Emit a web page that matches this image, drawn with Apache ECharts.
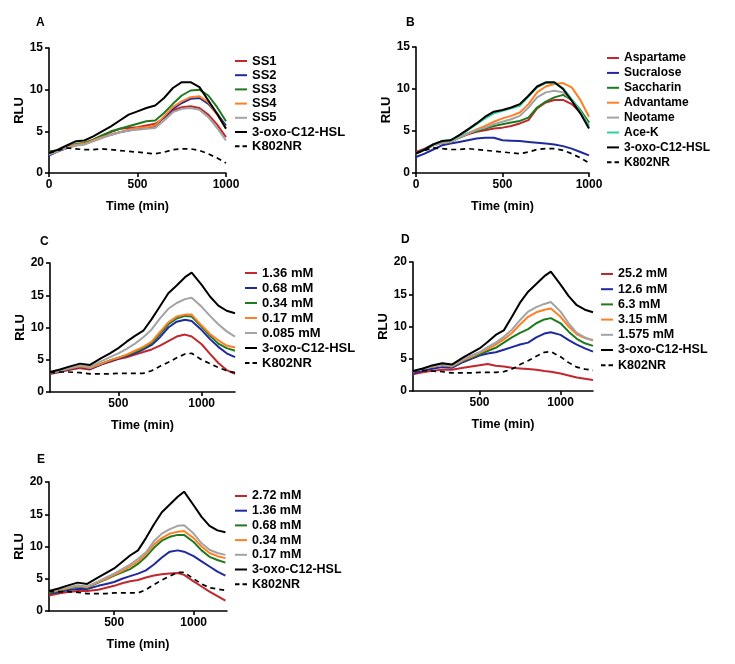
<!DOCTYPE html>
<html><head><meta charset="utf-8">
<script src="https://cdn.jsdelivr.net/npm/echarts@6/dist/echarts.min.js"></script>
<style>html,body{margin:0;padding:0;background:#fff}#c{width:735px;height:664px}</style>
</head><body><div id="c"></div>
<script>
// ---------- DATA ----------
const timeAB = [0,50,100,150,200,250,300,350,400,450,500,550,600,650,700,750,800,850,900,950,1000];
const timeCDE = [90,150,200,270,330,400,450,500,550,600,650,700,750,800,850,900,940,1000,1050,1100,1150,1200];

// Panel A
const A_SS1 = [2.3,2.6,3.0,3.3,3.5,4.0,4.5,4.9,5.3,5.4,5.5,5.7,5.9,6.6,7.5,7.9,8.0,7.8,7.0,5.8,4.3];
const A_SS2 = [2.1,2.6,3.0,3.4,3.5,3.9,4.3,4.6,4.9,5.1,5.3,5.4,5.6,6.7,7.7,8.4,8.9,9.0,8.3,7.1,5.7];
const A_SS3 = [2.6,2.7,3.1,3.5,3.6,4.0,4.5,5.0,5.3,5.6,5.9,6.2,6.3,7.2,8.3,9.3,9.9,10.0,9.3,7.9,6.2];
const A_SS4 = [2.4,2.7,3.1,3.4,3.5,3.9,4.3,4.6,4.9,5.2,5.4,5.5,5.7,6.8,7.9,8.6,9.1,9.2,8.5,7.0,5.4];
const A_SS5 = [2.2,2.6,3.0,3.3,3.4,3.8,4.2,4.6,4.9,5.1,5.2,5.3,5.4,6.3,7.3,7.7,7.8,7.6,6.7,5.4,3.9];
const A_HSL = [2.4,2.8,3.3,3.8,3.9,4.4,5.0,5.6,6.3,7.0,7.4,7.8,8.1,9.0,10.2,10.9,10.9,10.3,8.7,7.1,5.3];
const A_K802NR = [2.4,2.7,3.0,2.9,2.8,2.8,2.9,2.8,2.7,2.6,2.5,2.4,2.3,2.5,2.8,2.9,2.9,2.7,2.3,1.8,1.2];

// Panel B
const B_Aspartame = [2.5,2.9,3.4,3.8,3.8,4.2,4.6,4.9,5.1,5.3,5.4,5.6,5.9,6.3,7.7,8.4,8.7,8.7,8.2,7.2,6.0];
const B_Sucralose = [1.9,2.3,2.8,3.3,3.5,3.7,3.9,4.1,4.2,4.2,3.9,3.85,3.8,3.7,3.6,3.5,3.4,3.2,2.9,2.5,2.1];
const B_Saccharin = [2.3,2.8,3.3,3.6,3.7,4.2,4.7,5.0,5.3,5.6,5.8,6.0,6.2,6.6,7.8,8.5,9.0,9.3,8.7,7.5,6.0];
const B_Advantame = [2.3,2.8,3.3,3.6,3.7,4.2,4.7,5.2,5.6,6.1,6.5,6.8,7.2,8.2,9.6,10.3,10.6,10.7,10.2,8.7,6.7];
const B_Neotame = [2.3,2.8,3.3,3.6,3.7,4.2,4.7,5.1,5.4,5.8,6.1,6.4,6.8,7.8,9.0,9.6,9.8,9.6,8.7,7.3,5.7];
const B_AceK = [2.3,2.8,3.4,3.8,3.9,4.4,5.1,5.8,6.5,7.1,7.4,7.7,8.0,9.1,10.2,10.7,10.7,10.1,8.8,7.3,5.5];
const B_HSL = [2.3,2.8,3.4,3.8,3.9,4.5,5.2,5.9,6.7,7.3,7.5,7.8,8.2,9.2,10.3,10.8,10.8,10.0,8.6,7.1,5.3];
const B_K802NR = [2.4,2.7,3.0,2.9,2.8,2.8,2.9,2.8,2.7,2.6,2.5,2.4,2.3,2.5,2.8,2.9,2.9,2.7,2.3,1.8,1.2];

// Panel C
const C_136 = [2.8,3.1,3.4,3.7,3.5,4.3,4.7,5.1,5.4,5.8,6.2,6.6,7.2,7.9,8.6,8.9,8.6,7.4,5.9,4.5,3.4,2.8];
const C_068 = [2.9,3.2,3.5,3.9,3.6,4.3,4.8,5.2,5.6,6.0,6.6,7.3,8.5,10.0,10.9,11.2,11.0,9.6,8.2,7.0,6.0,5.4];
const C_034 = [3.0,3.3,3.6,4.0,3.7,4.4,4.9,5.3,5.7,6.2,6.8,7.6,9.0,10.5,11.4,11.8,11.7,10.1,8.7,7.5,6.8,6.4];
const C_017 = [3.0,3.3,3.6,4.0,3.7,4.4,4.9,5.3,5.8,6.4,7.0,7.8,9.3,10.8,11.7,12.0,12.0,10.3,9.0,8.0,7.2,6.9];
const C_0085 = [3.0,3.3,3.7,4.1,3.9,4.8,5.4,6.0,6.7,7.5,8.5,9.7,11.4,12.9,13.8,14.4,14.6,13.2,11.8,10.5,9.4,8.6];
const C_HSL = [3.1,3.5,3.9,4.4,4.2,5.3,6.0,6.8,7.8,8.7,9.5,11.3,13.3,15.3,16.5,17.8,18.5,16.6,14.8,13.4,12.6,12.2];
const C_K802NR = [3.0,3.1,3.1,3.0,2.8,2.8,2.8,2.9,2.9,2.9,2.9,3.3,4.0,4.6,5.3,5.9,6.0,5.0,4.4,3.8,3.3,3.0];

// Panel D
const D_252 = [2.6,2.9,3.1,3.3,3.3,3.6,3.8,4.0,4.2,3.9,3.8,3.6,3.5,3.4,3.3,3.1,3.0,2.7,2.4,2.1,1.9,1.7];
const D_126 = [2.8,3.1,3.4,3.7,3.6,4.5,5.0,5.5,5.8,6.0,6.4,6.8,7.2,7.5,8.3,8.9,9.1,8.7,7.9,7.2,6.6,6.1];
const D_63 = [3.0,3.4,3.7,4.1,3.8,4.7,5.2,5.7,6.2,6.7,7.5,8.3,9.0,9.6,10.5,11.1,11.3,10.5,9.2,8.1,7.4,7.0];
const D_315 = [3.0,3.4,3.7,4.1,3.8,4.8,5.3,5.9,6.5,7.2,8.0,9.0,10.3,11.5,12.2,12.6,12.8,11.5,10.0,8.8,8.2,7.9];
const D_1575 = [3.0,3.4,3.8,4.2,3.9,4.9,5.5,6.0,6.8,7.5,8.4,9.5,11.0,12.3,13.0,13.5,13.8,12.3,10.5,9.0,8.3,7.8];
const D_HSL = [3.1,3.5,3.9,4.3,4.1,5.2,5.9,6.6,7.6,8.7,9.4,11.5,13.7,15.4,16.6,17.8,18.5,16.5,14.7,13.3,12.6,12.2];
const D_K802NR = [3.1,3.2,3.1,3.0,2.8,2.8,2.8,2.9,2.9,2.9,3.0,3.4,4.1,4.7,5.4,6.0,6.1,5.3,4.4,3.7,3.4,3.2];

// Panel E
const E_272 = [2.4,2.7,2.9,3.1,3.1,3.3,3.6,3.9,4.3,4.6,4.8,5.2,5.5,5.7,5.8,5.9,5.6,4.6,3.8,3.0,2.3,1.6];
const E_136 = [2.7,2.9,3.2,3.4,3.4,3.9,4.2,4.5,5.0,5.4,5.8,6.3,7.2,8.3,9.2,9.4,9.2,8.5,7.7,6.9,6.1,5.5];
const E_068 = [2.8,3.1,3.4,3.8,3.6,4.4,4.9,5.5,6.0,6.5,7.3,8.4,9.8,10.9,11.5,11.8,11.8,10.7,9.4,8.4,7.9,7.5];
const E_034 = [2.9,3.2,3.5,3.9,3.7,4.5,5.0,5.6,6.2,6.9,7.7,8.8,10.3,11.3,12.0,12.3,12.4,11.3,10.0,9.0,8.5,8.2];
const E_017 = [3.0,3.3,3.6,4.0,3.8,4.6,5.2,5.8,6.5,7.2,8.1,9.1,10.8,12.0,12.7,13.2,13.3,12.0,10.5,9.5,9.0,8.7];
const E_HSL = [3.1,3.5,3.9,4.4,4.2,5.2,5.9,6.6,7.6,8.6,9.4,11.3,13.4,15.3,16.5,17.7,18.5,16.4,14.6,13.2,12.5,12.2];
const E_K802NR = [3.0,3.0,3.0,2.9,2.7,2.7,2.7,2.8,2.8,2.8,2.8,3.3,4.1,4.8,5.4,6.0,6.0,5.0,4.2,3.6,3.4,3.2];

const panelLetters = ['A','B','C','D','E'];
const xTicksAB = [0,500,1000];
const xTicksCDE = [500,1000];

// ---------- STYLE ----------
const RED='#c1272d', BLUE='#1f2a9e', GREEN='#1e7a1e', ORANGE='#ff7f27', GRAY='#a3a3a3', TEAL='#2fd29b', BLACK='#000000';
const FONT='Liberation Sans';
const ICON_SOLID='path://M0,0h12v2h-12z';
const ICON_DASH='path://M0,0h4.5v2h-4.5zM7.5,0h4.5v2h-4.5z';

const panels = [
  {key:'A', times:timeAB, grid:{left:49,top:48,width:177,height:125}, xmin:0, xmax:1000, ymax:15, xticks:xTicksAB,
   legend:{left:235,top:54,gap:0.2,fs:13},
   series:[['SS1',A_SS1,RED],['SS2',A_SS2,BLUE],['SS3',A_SS3,GREEN],['SS4',A_SS4,ORANGE],['SS5',A_SS5,GRAY],['3-oxo-C12-HSL',A_HSL,BLACK],['K802NR',A_K802NR,BLACK,true]]},
  {key:'B', times:timeAB, grid:{left:416,top:47,width:173,height:126}, xmin:0, xmax:1000, ymax:15, xticks:xTicksAB,
   legend:{left:607,top:51,gap:0.9,fs:12},
   series:[['Aspartame',B_Aspartame,RED],['Sucralose',B_Sucralose,BLUE],['Saccharin',B_Saccharin,GREEN],['Advantame',B_Advantame,ORANGE],['Neotame',B_Neotame,GRAY],['Ace-K',B_AceK,TEAL],['3-oxo-C12-HSL',B_HSL,BLACK],['K802NR',B_K802NR,BLACK,true]]},
  {key:'C', times:timeCDE, grid:{left:50,top:263,width:185,height:129}, xmin:90, xmax:1200, ymax:20, xticks:xTicksCDE,
   legend:{left:245,top:266,gap:1,fs:13},
   series:[['1.36 mM',C_136,RED],['0.68 mM',C_068,BLUE],['0.34 mM',C_034,GREEN],['0.17 mM',C_017,ORANGE],['0.085 mM',C_0085,GRAY],['3-oxo-C12-HSL',C_HSL,BLACK],['K802NR',C_K802NR,BLACK,true]]},
  {key:'D', times:timeCDE, grid:{left:413,top:262,width:180,height:129}, xmin:90, xmax:1200, ymax:20, xticks:xTicksCDE,
   legend:{left:601,top:267,gap:1.2,fs:12.5},
   series:[['25.2 mM',D_252,RED],['12.6 mM',D_126,BLUE],['6.3 mM',D_63,GREEN],['3.15 mM',D_315,ORANGE],['1.575 mM',D_1575,GRAY],['3-oxo-C12-HSL',D_HSL,BLACK],['K802NR',D_K802NR,BLACK,true]]},
  {key:'E', times:timeCDE, grid:{left:49,top:482,width:178,height:129}, xmin:90, xmax:1210, ymax:20, xticks:xTicksCDE,
   legend:{left:235,top:489,gap:0.7,fs:12.5},
   series:[['2.72 mM',E_272,RED],['1.36 mM',E_136,BLUE],['0.68 mM',E_068,GREEN],['0.34 mM',E_034,ORANGE],['0.17 mM',E_017,GRAY],['3-oxo-C12-HSL',E_HSL,BLACK],['K802NR',E_K802NR,BLACK,true]]}
];
const letterPos = [[36,17],[406,17],[40,236],[401,234],[37,454]];

const grid=[], xAxis=[], yAxis=[], series=[], legend=[], title=[];
const axisLine = {show:true, onZero:false, lineStyle:{color:'#000', width:1.6}};
const axisTick = {show:true, length:4, lineStyle:{color:'#000', width:1.6}};
const lbl = {color:'#000', fontFamily:FONT, fontWeight:'bold', fontSize:12, formatter:v=>String(v)};

panels.forEach((p,i)=>{
  grid.push(Object.assign({containLabel:false}, p.grid));
  xAxis.push({type:'value', gridIndex:i, min:p.xmin, max:p.xmax,
    name:'Time (min)', nameLocation:'middle', nameGap:27,
    nameTextStyle:{color:'#000', fontFamily:FONT, fontWeight:'bold', fontSize:12.5},
    axisLine, axisTick:Object.assign({customValues:p.xticks}, axisTick),
    axisLabel:Object.assign({customValues:p.xticks, margin:6, showMinLabel:true, showMaxLabel:true}, lbl),
    splitLine:{show:false}});
  yAxis.push({type:'value', gridIndex:i, min:0, max:p.ymax, interval:5,
    name:'RLU', nameLocation:'middle', nameGap:20,
    nameTextStyle:{color:'#000', fontFamily:FONT, fontWeight:'bold', fontSize:13},
    axisLine, axisTick, axisLabel:Object.assign({margin:6}, lbl), splitLine:{show:false}});
  const items=[];
  p.series.forEach(s=>{
    const nm = p.key+'|'+s[0];
    items.push({name:nm, icon:s[3]?ICON_DASH:ICON_SOLID, itemStyle:{color:s[2], borderWidth:0}});
    series.push({type:'line', name:nm, xAxisIndex:i, yAxisIndex:i, symbol:'none', animation:false,
      data:p.times.map((t,k)=>[t,s[1][k]]),
      lineStyle:{color:s[2], width:s[3]?1.7:2, type:s[3]?[5,4]:'solid'},
      itemStyle:{color:s[2]}});
  });
  legend.push({orient:'vertical', left:p.legend.left, top:p.legend.top, padding:0,
    itemWidth:12, itemHeight:2, itemGap:p.legend.gap, data:items,
    formatter:n=>n.split('|')[1], selectedMode:false,
    textStyle:{color:'#000', fontFamily:FONT, fontWeight:'bold', fontSize:p.legend.fs, lineHeight:14}});
  title.push({text:panelLetters[i], left:letterPos[i][0], top:letterPos[i][1], padding:0,
    textStyle:{color:'#000', fontFamily:FONT, fontWeight:'bold', fontSize:12}});
});

const chart = echarts.init(document.getElementById('c'), null, {renderer:'canvas'});
chart.setOption({backgroundColor:'#fff', animation:false, title, grid, xAxis, yAxis, legend, series});
</script></body></html>
